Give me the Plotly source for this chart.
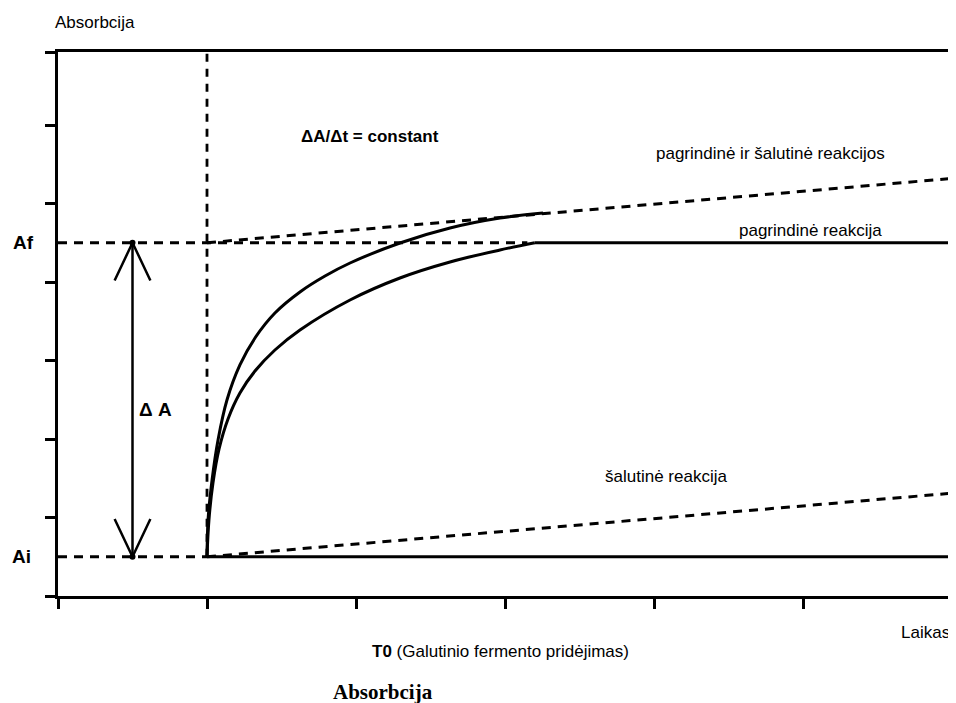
import plotly.graph_objects as go

# ---- data (x: time units, T0 = 1; y: absorbance units) ----
T0 = 1.0
X_END = 6.0
Y_TOP = 6.93
Ai = 0.5
Af = 4.5

# main + side reaction (solid curve)
upper_x = [1.0, 1.007, 1.034, 1.074, 1.134, 1.221, 1.322, 1.456, 1.624, 1.792, 1.960, 2.295, 2.631, 2.966, 3.255]
upper_y = [0.5, 0.968, 1.478, 1.987, 2.497, 2.943, 3.287, 3.605, 3.873, 4.076, 4.242, 4.497, 4.688, 4.815, 4.879]

# main reaction (solid curve)
lower_x = [1.0, 1.013, 1.040, 1.081, 1.141, 1.221, 1.322, 1.456, 1.624, 1.960, 2.295, 2.631, 2.966, 3.2]
lower_y = [0.5, 0.968, 1.439, 1.873, 2.255, 2.586, 2.866, 3.134, 3.389, 3.771, 4.051, 4.255, 4.408, 4.5]

# plateau of main reaction
plateau_x = [3.2, 6.0]
plateau_y = [Af, Af]

# baseline after T0
base_x = [T0, X_END]
base_y = [Ai, Ai]

# constant-rate dashed lines (side reaction slope)
slope_top_x = [T0, X_END]
slope_top_y = [Af, 5.32]
slope_bot_x = [T0, X_END]
slope_bot_y = [Ai, 1.31]

# dashed guide lines
af_guide_x = [0.0, 3.15]
ai_guide_x = [0.0, T0]
t0_guide_y = [Ai, Y_TOP]

# double arrow (delta A)
arrow_x = 0.5
head_dx = 0.12
head_dy = 0.48

x_ticks = [0, 1, 2, 3, 4, 5, 6]
y_ticks = [0, 1, 2, 3, 4, 5, 6, Y_TOP]

SANS = "Liberation Sans, Arial, sans-serif"
SERIF = "Liberation Serif, Times New Roman, serif"
DASH = "9px,7px"

fig = go.Figure()

def line(x, y, dash=None, w=3, shape="linear", smoothing=1.0):
    fig.add_trace(go.Scatter(x=x, y=y, mode="lines", hoverinfo="skip",
                             line=dict(color="black", width=w, dash=dash, shape=shape,
                                       smoothing=smoothing if shape == "spline" else None),
                             showlegend=False, cliponaxis=False))

# dashed guides
line(af_guide_x, [Af, Af], DASH, 2.8)
line(ai_guide_x, [Ai, Ai], DASH, 2.8)
line([T0, T0], t0_guide_y, "8px,7px", 2.8)
line(slope_top_x, slope_top_y, DASH, 3)
line(slope_bot_x, slope_bot_y, DASH, 3)

# solid lines
line(base_x, base_y, None, 3)
line(plateau_x, plateau_y, None, 3)
line(upper_x, upper_y, None, 3, "spline", 0.8)
line(lower_x, lower_y, None, 3, "spline", 1.0)

# double arrow
line([arrow_x, arrow_x], [Ai, Af], None, 2.5)
line([arrow_x - head_dx, arrow_x, arrow_x + head_dx], [Af - head_dy, Af, Af - head_dy], None, 2.5)
line([arrow_x - head_dx, arrow_x, arrow_x + head_dx], [Ai + head_dy, Ai, Ai + head_dy], None, 2.5)
fig.add_trace(go.Scatter(x=[arrow_x, arrow_x], y=[Ai, Af], mode="markers",
                         marker=dict(color="black", size=6), showlegend=False, hoverinfo="skip"))

# thick Af / Ai ticks
for v in (Ai, Af):
    fig.add_shape(type="line", xref="x", yref="y", x0=-0.07, x1=0, y0=v, y1=v,
                  line=dict(color="black", width=5))

def ann(text, x, y, xanchor="left", size=17, family=SANS):
    fig.add_annotation(text=text, x=x / X_END, y=y / Y_TOP, xref="paper", yref="paper",
                       xanchor=xanchor, yanchor="middle", showarrow=False,
                       font=dict(family=family, size=size, color="black"))

ann("Absorbcija", -0.035, 7.31, size=17)
ann("<b>Af</b>", -0.15, Af, "right", size=19)
ann("<b>Ai</b>", -0.165, Ai, "right", size=19)
ann("<b>Δ A</b>", 0.53, 2.37, size=19)
ann("<b>ΔA/Δt = constant</b>", 1.62, 5.85, size=17)
ann("pagrindinė ir šalutinė reakcijos", 4.0, 5.64, size=17)
ann("pagrindinė reakcija", 4.56, 4.66, size=17)
ann("šalutinė reakcija", 3.655, 1.52, size=17)
ann("Laikas", 6.0, -0.47, "right", size=17)
ann("<b>T0</b> (Galutinio fermento pridėjimas)", 2.095, -0.713, size=17)
ann("<b>Absorbcija</b>", 1.83, -1.22, size=21, family=SERIF)

# page body has an 8px margin, so the figure is shrunk and margins shifted by 8px
fig.update_layout(
    width=948, height=695,
    margin=dict(l=50, r=4, t=44, b=107, autoexpand=False),
    paper_bgcolor="white", plot_bgcolor="white",
    showlegend=False,
    xaxis=dict(range=[0, X_END], showgrid=False, zeroline=False, showline=True,
               mirror=True, linecolor="black", linewidth=3,
               ticks="outside", tickvals=x_ticks, ticklen=10, tickwidth=2.5,
               tickcolor="black", showticklabels=False, fixedrange=True),
    yaxis=dict(range=[0, Y_TOP], showgrid=False, zeroline=False, showline=True,
               mirror=True, linecolor="black", linewidth=3,
               ticks="outside", tickvals=y_ticks, ticklen=10, tickwidth=2.5,
               tickcolor="black", showticklabels=False, fixedrange=True),
)

fig.write_html("out.html")
